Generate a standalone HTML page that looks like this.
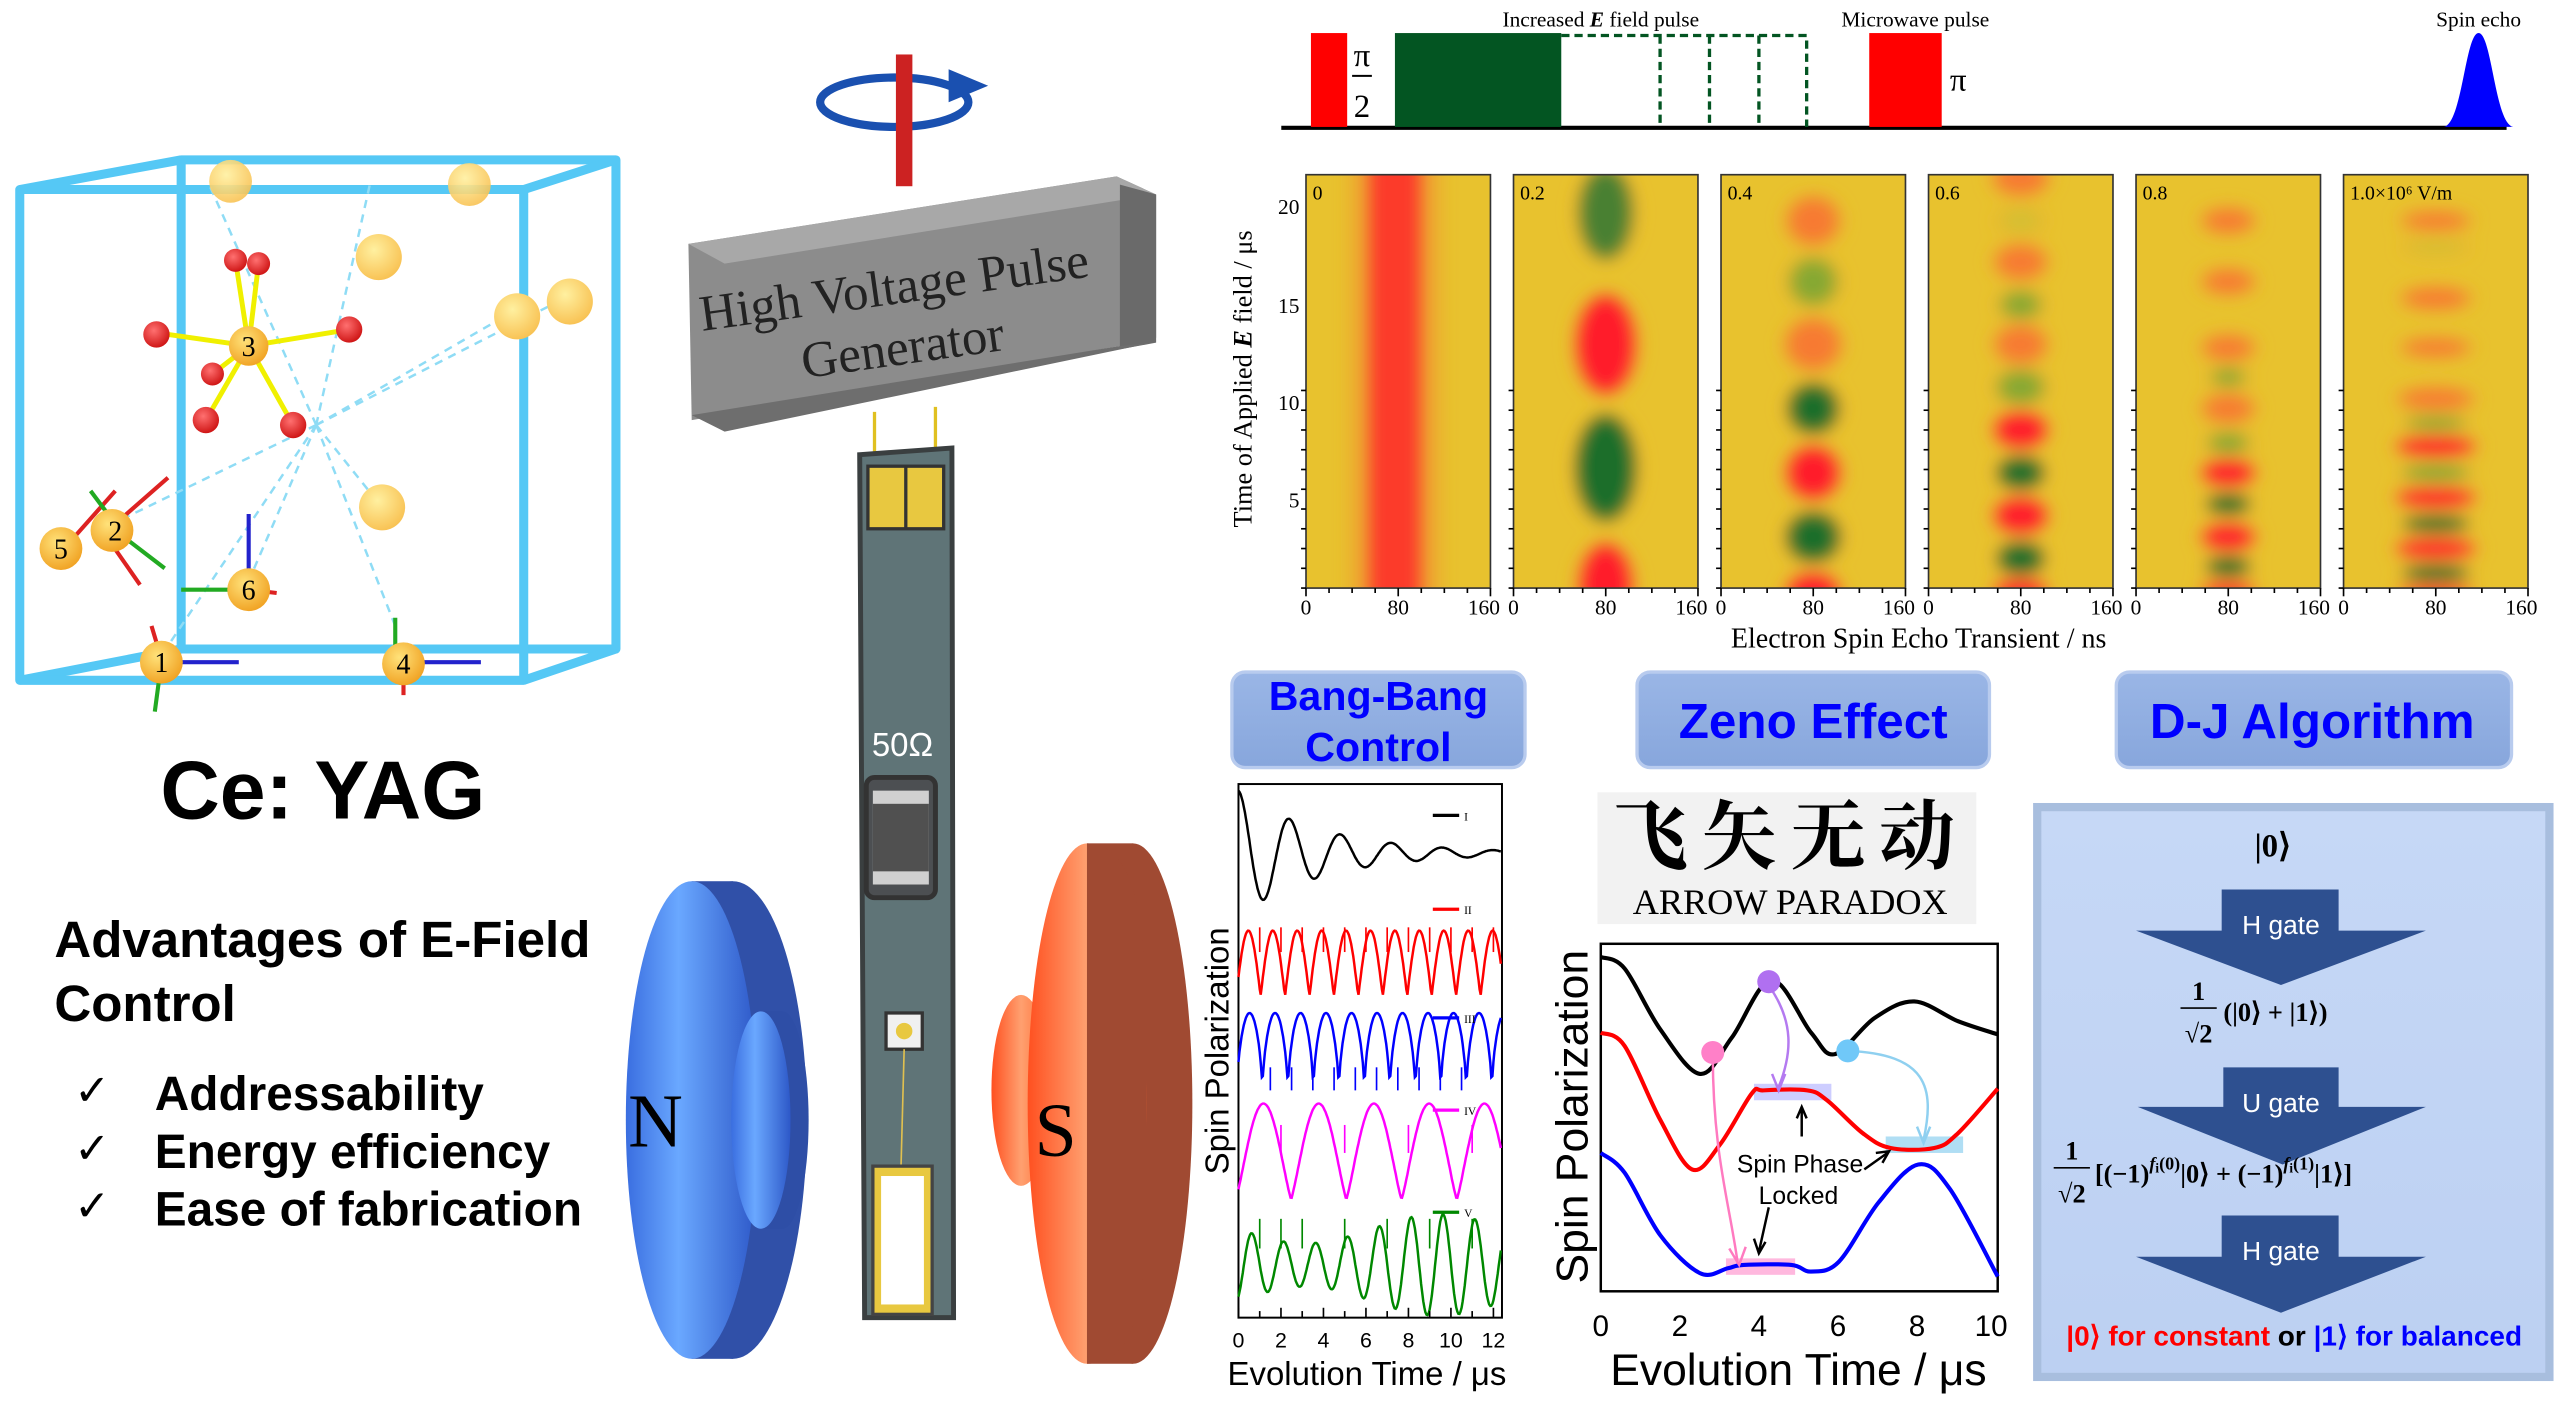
<!DOCTYPE html>
<html><head><meta charset="utf-8"><style>
html,body{margin:0;padding:0;background:#fff;width:2556px;height:1410px;overflow:hidden}
svg{display:block}
.s{font-family:"Liberation Sans",sans-serif}
.r{font-family:"Liberation Serif",serif}
</style></head><body>
<svg id="sv" width="2556" height="1410" viewBox="0 0 1552 856" xmlns="http://www.w3.org/2000/svg">
<defs>
<filter id="bl" x="-50%" y="-50%" width="200%" height="200%"><feGaussianBlur stdDeviation="5"/></filter>
<radialGradient id="ball" cx="0.4" cy="0.35" r="0.7"><stop offset="0" stop-color="#ffe27a"/><stop offset="1" stop-color="#f0a020"/></radialGradient>
<radialGradient id="ballY" cx="0.4" cy="0.35" r="0.7"><stop offset="0" stop-color="#fff0a0"/><stop offset="1" stop-color="#f8c050"/></radialGradient>
<radialGradient id="red" cx="0.4" cy="0.35" r="0.7"><stop offset="0" stop-color="#ff7070"/><stop offset="1" stop-color="#cc1010"/></radialGradient>
<linearGradient id="blueF" x1="0" x2="1"><stop offset="0" stop-color="#3a6ee0"/><stop offset="0.4" stop-color="#6aa8ff"/><stop offset="1" stop-color="#2d58c8"/></linearGradient>
<linearGradient id="orF" x1="0" x2="1"><stop offset="0" stop-color="#ff5020"/><stop offset="0.5" stop-color="#ffa070"/><stop offset="1" stop-color="#ff6a30"/></linearGradient>
<linearGradient id="btn" x1="0" y1="0" x2="0" y2="1"><stop offset="0" stop-color="#9ab6e6"/><stop offset="1" stop-color="#87a6dc"/></linearGradient>
<linearGradient id="dj" x1="0" y1="0" x2="0" y2="1"><stop offset="0" stop-color="#c6d8f6"/><stop offset="1" stop-color="#bcd0f2"/></linearGradient>
<clipPath id="c1"><rect x="793" y="106" width="112" height="251"/></clipPath>
<clipPath id="c2"><rect x="919" y="106" width="112" height="251"/></clipPath>
<clipPath id="c3"><rect x="1045" y="106" width="112" height="251"/></clipPath>
<clipPath id="c4"><rect x="1171" y="106" width="112" height="251"/></clipPath>
<clipPath id="c5"><rect x="1297" y="106" width="112" height="251"/></clipPath>
<clipPath id="c6"><rect x="1423" y="106" width="112" height="251"/></clipPath>
</defs>

<!-- ===== Pulse sequence ===== -->
<line x1="778" y1="77.5" x2="1522" y2="77.5" stroke="#000" stroke-width="2.5"/>
<rect x="796" y="20" width="22" height="57" fill="#ff0000"/>
<text x="827" y="40" class="r" font-size="20" text-anchor="middle">π</text>
<line x1="821" y1="46" x2="833" y2="46" stroke="#000" stroke-width="1.2"/>
<text x="827" y="71" class="r" font-size="20" text-anchor="middle">2</text>
<rect x="847" y="20" width="101" height="57" fill="#035522"/>
<path d="M948 21.5H1097V77M1008 21.5V77M1038 21.5V77M1068 21.5V77" fill="none" stroke="#035522" stroke-width="2" stroke-dasharray="5,3"/>
<text x="972" y="16" class="r" font-size="13" text-anchor="middle">Increased <tspan font-style="italic" font-weight="bold">E</tspan> field pulse</text>
<rect x="1135" y="20" width="44" height="57" fill="#ff0000"/>
<text x="1189" y="55" class="r" font-size="20" text-anchor="middle">π</text>
<text x="1163" y="16" class="r" font-size="13" text-anchor="middle">Microwave pulse</text>
<path d="M1484 77C1495 75 1497 20 1505 20C1513 20 1515 75 1526 77Z" fill="#0000ff"/>
<text x="1505" y="16" class="r" font-size="13" text-anchor="middle">Spin echo</text>

<!-- ===== Heatmaps ===== -->
<g id="hm"></g>
<text transform="translate(760,230) rotate(-90)" class="r" font-size="16" text-anchor="middle">Time of Applied <tspan font-style="italic" font-weight="bold">E</tspan> field / μs</text>
<g class="r" font-size="13" text-anchor="end">
<text x="789" y="130">20</text><text x="789" y="190">15</text><text x="789" y="249">10</text><text x="789" y="308">5</text>
</g>
<text x="1165" y="393" class="r" font-size="17" text-anchor="middle">Electron Spin Echo Transient / ns</text>

<!-- ===== Crystal cube ===== -->
<g stroke="#55c8f5" stroke-width="5.5" fill="none" stroke-linejoin="round">
<rect x="110" y="97" width="264" height="297"/>
<path d="M12 115L110 97M318 115L374 97M12 413L110 394M318 413L374 394"/>
<rect x="12" y="115" width="306" height="298"/>
</g>
<g stroke="#8fdcf5" stroke-width="1.5" stroke-dasharray="5,4" fill="none">
<path d="M192 258L127 112M192 258L225 110M192 258L310 190M192 258L232 308M192 258L100 395M192 258L60 322M192 258L150 355M192 258L240 380M192 258L335 185"/>
</g>
<circle cx="140" cy="110" r="13" fill="url(#ballY)" opacity="0.9"/>
<circle cx="285" cy="112" r="13" fill="url(#ballY)" opacity="0.9"/>
<circle cx="230" cy="156" r="14" fill="url(#ballY)"/>
<circle cx="314" cy="192" r="14" fill="url(#ballY)"/>
<circle cx="346" cy="183" r="14" fill="url(#ballY)"/>
<circle cx="232" cy="308" r="14" fill="url(#ballY)"/>
<g stroke="#f0f000" stroke-width="3"><path d="M151 210L143 158M151 210L157 160M151 210L102 203M151 210L212 200M151 210L125 255M151 210L178 258M151 210L129 227"/></g>
<circle cx="143" cy="158" r="7" fill="url(#red)"/><circle cx="157" cy="160" r="7" fill="url(#red)"/>
<circle cx="95" cy="203" r="8" fill="url(#red)"/><circle cx="212" cy="200" r="8" fill="url(#red)"/>
<circle cx="125" cy="255" r="8" fill="url(#red)"/><circle cx="178" cy="258" r="8" fill="url(#red)"/><circle cx="129" cy="227" r="7" fill="url(#red)"/>
<circle cx="151" cy="210" r="12" fill="url(#ball)"/>
<g stroke-width="2.5">
<path d="M70 318L102 290M38 334L70 298M62 322L85 355" stroke="#d22"/>
<path d="M70 318L55 298M70 322L100 345M150 358L110 358" stroke="#2a2"/>
<path d="M151 358V312M98 402H145M245 402H292" stroke="#22c"/>
<path d="M151 358L168 360M98 400L92 380M245 402L245 422" stroke="#d22"/>
<path d="M98 402L94 432M240 402L240 375" stroke="#2a2"/>
</g>
<g class="r" font-size="17" text-anchor="middle">
<circle cx="37" cy="333" r="13" fill="url(#ball)"/><text x="37" y="339">5</text>
<circle cx="68" cy="322" r="13" fill="url(#ball)"/><text x="70" y="328">2</text>
<circle cx="151" cy="358" r="13" fill="url(#ball)"/><text x="151" y="364">6</text>
<circle cx="98" cy="402" r="13" fill="url(#ball)"/><text x="98" y="408">1</text>
<circle cx="245" cy="403" r="13" fill="url(#ball)"/><text x="245" y="409">4</text>
<text x="151" y="216">3</text>
</g>
<text x="196" y="497" class="s" font-size="50" font-weight="bold" text-anchor="middle">Ce: YAG</text>
<g class="s" font-weight="bold">
<text x="33" y="581" font-size="31">Advantages of E-Field</text>
<text x="33" y="620" font-size="31">Control</text>
<text x="94" y="674" font-size="29">Addressability</text>
<text x="94" y="709" font-size="29">Energy efficiency</text>
<text x="94" y="744" font-size="29">Ease of fabrication</text>
</g>
<g class="r" font-size="26"><text x="45" y="671">✓</text><text x="45" y="706">✓</text><text x="45" y="741">✓</text></g>

<!-- ===== Generator ===== -->
<ellipse cx="543" cy="62" rx="45" ry="15" fill="none" stroke="#1a50b0" stroke-width="5"/>
<rect x="544" y="33" width="10" height="80" fill="#cc2222"/>
<path d="M576 42L600 52L576 62Z" fill="#1a50b0"/>
<path d="M418 148L678 107L702 118L702 205L680 210L420 255Z" fill="#8c8c8c"/>
<path d="M418 148L678 107L702 118L440 160Z" fill="#a8a8a8"/>
<path d="M680 112L702 118L702 208L680 212Z" fill="#6a6a6a"/>
<path d="M420 252L680 210L700 208L440 262Z" fill="#6e6e6e"/>
<g transform="rotate(-8 540 190)" class="r" font-size="31" text-anchor="middle" fill="#222">
<text x="545" y="185">High Voltage Pulse</text><text x="545" y="222">Generator</text></g>
<path d="M531 250V286M568 247V286" stroke="#e0c020" stroke-width="2"/>
<!-- board -->
<path d="M522 276L578 272L579 800L525 800Z" fill="#5f7477" stroke="#3a3f40" stroke-width="3"/>
<rect x="527" y="283" width="46" height="38" fill="#e8c840" stroke="#333" stroke-width="2"/>
<line x1="550" y1="283" x2="550" y2="321" stroke="#333" stroke-width="2"/>
<text x="548" y="459" class="s" font-size="20" fill="#fff" text-anchor="middle">50Ω</text>
<rect x="526" y="472" width="42" height="73" rx="5" fill="#4c4f52" stroke="#333" stroke-width="3"/>
<rect x="530" y="480" width="34" height="57" fill="#d0d0d0"/><rect x="530" y="488" width="34" height="41" fill="#505050"/>
<rect x="538" y="615" width="22" height="22" fill="#f0f0f0" stroke="#333" stroke-width="2"/><circle cx="549" cy="626" r="5" fill="#e8c840"/>
<line x1="549" y1="637" x2="547" y2="712" stroke="#e0c050" stroke-width="1"/>
<rect x="530" y="708" width="36" height="90" fill="#e8c840" stroke="#444" stroke-width="2"/><rect x="535" y="714" width="26" height="78" fill="#fff"/>
<!-- N magnet -->
<ellipse cx="445" cy="680" rx="45" ry="145" fill="#3050a8"/>
<rect x="420" y="535" width="25" height="290" fill="#3050a8"/>
<ellipse cx="420" cy="680" rx="40" ry="145" fill="url(#blueF)"/>
<ellipse cx="475" cy="680" rx="16" ry="66" fill="#2e4ea6"/>
<rect x="462" y="614" width="13" height="132" fill="#2e4ea6"/>
<ellipse cx="462" cy="680" rx="18" ry="66" fill="url(#blueF)"/>
<text x="398" y="696" class="r" font-size="46" text-anchor="middle">N</text>
<!-- S magnet -->
<ellipse cx="620" cy="662" rx="18" ry="58" fill="url(#orF)"/>
<ellipse cx="688" cy="670" rx="36" ry="158" fill="#a04a32"/>
<rect x="660" y="512" width="28" height="316" fill="#a04a32"/>
<ellipse cx="660" cy="670" rx="36" ry="158" fill="url(#orF)"/>
<path d="M660 512C700 512 696 600 696 670C696 760 700 828 660 828" fill="#a04a32"/>
<text x="641" y="702" class="r" font-size="46" text-anchor="middle">S</text>

<!-- ===== Buttons ===== -->
<g class="s" font-weight="bold" fill="#0000ff" text-anchor="middle">
<rect x="748" y="408" width="178" height="58" rx="8" fill="url(#btn)" stroke="#b8cbee" stroke-width="2"/>
<text x="837" y="431" font-size="25">Bang-Bang</text><text x="837" y="462" font-size="25">Control</text>
<rect x="994" y="408" width="214" height="58" rx="8" fill="url(#btn)" stroke="#b8cbee" stroke-width="2"/>
<text x="1101" y="448" font-size="30">Zeno Effect</text>
<rect x="1285" y="408" width="240" height="58" rx="8" fill="url(#btn)" stroke="#b8cbee" stroke-width="2"/>
<text x="1404" y="448" font-size="30">D-J Algorithm</text>
</g>

<!-- ===== Bang-bang plot ===== -->
<rect x="752" y="476" width="160" height="324" fill="none" stroke="#000" stroke-width="1.2"/>
<g id="bb"></g>
<g stroke-width="2"><line x1="870" y1="495" x2="886" y2="495" stroke="#000"/><line x1="870" y1="552" x2="886" y2="552" stroke="#f00"/><line x1="870" y1="618" x2="886" y2="618" stroke="#00f"/><line x1="870" y1="674" x2="886" y2="674" stroke="#f0f"/><line x1="870" y1="736" x2="886" y2="736" stroke="#080"/></g>
<g class="r" font-size="7"><text x="889" y="498">I</text><text x="889" y="555">II</text><text x="889" y="621">III</text><text x="889" y="677">IV</text><text x="889" y="739">V</text></g>
<text transform="translate(746,638) rotate(-90)" class="s" font-size="20" text-anchor="middle">Spin Polarization</text>
<g class="s" font-size="13" text-anchor="middle" id="bbx"></g>
<text x="830" y="841" class="s" font-size="20" text-anchor="middle">Evolution Time / μs</text>

<!-- ===== Arrow paradox ===== -->
<rect x="970" y="481" width="230" height="80" fill="#f2f2f2"/>
<text x="1087" y="524" font-family="'Noto Serif CJK SC','Noto Sans CJK SC',serif" font-size="46" font-weight="bold" text-anchor="middle" letter-spacing="8">飞矢无动</text>
<text x="1087" y="555" class="r" font-size="22" text-anchor="middle">ARROW PARADOX</text>

<!-- ===== Zeno plot ===== -->
<rect x="972" y="573" width="241" height="211" fill="none" stroke="#000" stroke-width="1.5"/>
<rect x="1065" y="658" width="47" height="10" fill="#b8b8ff" opacity="0.7"/>
<rect x="1145" y="690" width="47" height="10" fill="#8fd0f0" opacity="0.7"/>
<rect x="1048" y="764" width="42" height="10" fill="#ff9ad0" opacity="0.7"/>
<g id="zn" fill="none" stroke-width="2.5"></g>
<g fill="none" stroke-width="1.5">
<path d="M1073 597C1090 620 1088 640 1080 660" stroke="#b47af0"/><path d="M1076 652L1080 662L1084 652" stroke="#b47af0"/>
<path d="M1122 638C1170 640 1175 660 1168 692" stroke="#8fd0f0"/><path d="M1164 684L1168 694L1172 684" stroke="#8fd0f0"/>
<path d="M1040 640C1040 700 1050 730 1055 766" stroke="#ff7ac0"/><path d="M1050 758L1056 768L1060 757" stroke="#ff7ac0"/>
<path d="M1094 690V673M1091 679L1094 672L1097 679M1074 733L1068 760M1065 752L1068 761L1072 754M1132 710L1146 700M1139 700L1147 699L1143 706" stroke="#000"/>
</g>
<circle cx="1040" cy="639" r="7" fill="#ff80c8"/><circle cx="1074" cy="596" r="7" fill="#b070f0"/><circle cx="1122" cy="638" r="7" fill="#70c8f8"/>
<text x="1093" y="712" class="s" font-size="15" text-anchor="middle">Spin Phase</text>
<text x="1092" y="731" class="s" font-size="15" text-anchor="middle">Locked</text>
<text transform="translate(964,678) rotate(-90)" class="s" font-size="27" text-anchor="middle">Spin Polarization</text>
<g class="s" font-size="18" text-anchor="middle"><text x="972" y="811">0</text><text x="1020" y="811">2</text><text x="1068" y="811">4</text><text x="1116" y="811">6</text><text x="1164" y="811">8</text><text x="1209" y="811">10</text></g>
<text x="1092" y="841" class="s" font-size="27" text-anchor="middle">Evolution Time / μs</text>

<!-- ===== D-J box ===== -->
<rect x="1237" y="490" width="311" height="346" fill="url(#dj)" stroke="#a8bede" stroke-width="5"/>
<text x="1380" y="520" class="r" font-size="20" font-weight="bold" text-anchor="middle">|0⟩</text>
<g fill="#2e5090">
<path d="M1349 540H1420V565H1473L1385 598L1297 565H1349Z"/>
<path d="M1350 648H1420V672H1473L1386 707L1298 672H1350Z"/>
<path d="M1349 738H1420V763H1473L1385 797L1297 763H1349Z"/>
</g>
<g class="s" font-size="16" fill="#fff" text-anchor="middle"><text x="1385" y="567">H gate</text><text x="1385" y="675">U gate</text><text x="1385" y="765">H gate</text></g>
<g class="r" font-weight="bold" font-size="16">
<text x="1335" y="607" text-anchor="middle">1</text><line x1="1324" y1="612" x2="1346" y2="612" stroke="#000"/><text x="1335" y="633" text-anchor="middle">√2</text>
<text x="1350" y="620">(|0⟩ + |1⟩)</text>
<text x="1258" y="704" text-anchor="middle">1</text><line x1="1247" y1="709" x2="1269" y2="709" stroke="#000"/><text x="1258" y="730" text-anchor="middle">√2</text>
<text x="1272" y="718">[(−1)<tspan font-style="italic" font-size="11" dy="-8">f</tspan><tspan font-size="8" dy="2">i</tspan><tspan font-size="11" dy="-2">(0)</tspan><tspan dy="8">|0⟩ + (−1)</tspan><tspan font-style="italic" font-size="11" dy="-8">f</tspan><tspan font-size="8" dy="2">i</tspan><tspan font-size="11" dy="-2">(1)</tspan><tspan dy="8">|1⟩]</tspan></text>
</g>
<text x="1393" y="817" class="s" font-size="17" font-weight="bold" text-anchor="middle"><tspan fill="#f00">|0⟩ for constant</tspan> or <tspan fill="#00f">|1⟩ for balanced</tspan></text>
</svg>
<script>
var NS="http://www.w3.org/2000/svg",sv=document.getElementById("sv");
function el(p,t,a){var e=document.createElementNS(NS,t);for(var k in a)e.setAttribute(k,a[k]);p.appendChild(e);return e;}
var hm=document.getElementById("hm");
var xs=[793,919,1045,1171,1297,1423];
var Y="#e8c22e",R="#ff1a2a",O="#f77a30",G="#1f6e2a",LG="#86a830",F="#d4c030";
var data=[
 [],
 [[129,16,28,"#4a8030"],[209,18,30,R],[284,18,32,G],[356,16,26,R]],
 [[134,15,14,O],[171,14,14,LG],[209,16,15,O],[248,15,15,G],[287,16,16,R],[326,16,15,G],[360,16,12,R]],
 [[108,16,10,O],[134,12,7,F],[159,15,10,O],[185,12,8,LG],[209,15,11,O],[235,14,10,LG],[261,16,11,R],[287,14,10,G],[313,16,11,R],[339,14,10,G],[359,16,7,R]],
 [[134,15,7,O],[171,15,7,O],[211,15,7,O],[229,10,5,LG],[248,15,8,O],[269,12,6,LG],[287,16,8,R],[306,13,6,G],[326,16,8,R],[344,13,6,G],[359,16,5,R]],
 [[134,20,5,O],[150,18,4,F],[181,20,6,O],[211,20,5,O],[242,22,6,O],[257,18,4,LG],[271,24,6,R],[287,20,5,LG],[302,24,6,R],[318,20,5,G],[333,24,6,R],[348,20,5,G],[360,22,4,R]]
];
for(var i=0;i<6;i++){
 var g=el(hm,"g",{"clip-path":"url(#c"+(i+1)+")"});
 el(g,"rect",{x:xs[i],y:106,width:112,height:251,fill:Y});
 var gb=el(g,"g",{filter:"url(#bl)"});
 var cx=xs[i]+56;
 if(i==0){el(gb,"rect",{x:cx-18,y:90,width:32,height:290,fill:R});el(gb,"rect",{x:cx-30,y:90,width:56,height:290,fill:O,opacity:0.35});}
 data[i].forEach(function(d){el(gb,"ellipse",{cx:cx,cy:d[0],rx:d[1]+4,ry:d[2]+3,fill:"#f0a030",opacity:0.4});el(gb,"ellipse",{cx:cx,cy:d[0],rx:d[1],ry:d[2],fill:d[3]});});
 el(hm,"rect",{x:xs[i],y:106,width:112,height:251,fill:"none",stroke:"#333","stroke-width":1});
 for(var k=0;k<=8;k++)el(hm,"line",{x1:xs[i]+k*14,y1:357,x2:xs[i]+k*14,y2:k%4?360:362,stroke:"#000"});
 for(var k=0;k<11;k++)el(hm,"line",{x1:xs[i],y1:357-k*12,x2:xs[i]-3,y2:357-k*12,stroke:"#000"});
 [[0,"0"],[56,"80"],[108,"160"]].forEach(function(t){var tx=el(hm,"text",{x:xs[i]+t[0],y:373,"font-size":13,"text-anchor":"middle","class":"r"});tx.textContent=t[1];});
 var lb=["0","0.2","0.4","0.6","0.8","1.0×10⁶ V/m"][i];
 var tt=el(hm,"text",{x:xs[i]+4,y:121,"font-size":12,"class":"r"});tt.textContent=lb;
}
var bb=document.getElementById("bb");
function curve(f,col){var d="";for(var t=0;t<=12.4;t+=0.05){var x=752+t*12.9,y=f(t);d+=(d?"L":"M")+x.toFixed(1)+" "+y.toFixed(1);}el(bb,"path",{d:d,fill:"none",stroke:col,"stroke-width":1.5});}
curve(function(t){return 518-38*Math.exp(-t/4)*Math.cos(2*Math.PI*t/2.4);},"#000");
curve(function(t){return 605-40*Math.abs(Math.sin(Math.PI*t/1.15+0.3));},"#f00");
curve(function(t){return 663-48*Math.pow(Math.abs(Math.sin(Math.PI*t/1.2+0.2)),0.6);},"#00f");
curve(function(t){return 728-58*Math.pow(Math.abs(Math.sin(Math.PI*t/2.6+0.15)),1.2);},"#f0f");
curve(function(t){return 768+22*Math.cos(2*Math.PI*t/1.5+0.5)*(1-0.4*Math.sin(t/2));},"#080");
function ticks(y1,y2,col,xsList){xsList.forEach(function(t){el(bb,"line",{x1:752+t*12.9,y1:y1,x2:752+t*12.9,y2:y2,stroke:col,"stroke-width":1});});}
ticks(563,578,"#f00",[1,2,3,4,5,6,7,8,9,10,11,12]);
ticks(648,662,"#00f",[1.5,2.5,3.5,4.5,5.5,6.5,7.5,8.5,9.5,10.5]);
ticks(683,700,"#f0f",[2,5,8,11]);ticks(740,758,"#080",[1,2,3,5,7,9,11]);
var bx=document.getElementById("bbx");
for(var k=0;k<=12;k+=2){var tx=el(bx,"text",{x:752+k*12.9,y:818});tx.textContent=k;}
for(var k=0;k<=12;k++)el(bb,"line",{x1:752+k*12.9,y1:800,x2:752+k*12.9,y2:k%2?796:794,stroke:"#000"});
var zn=document.getElementById("zn");
function smooth(pts){var d="M"+pts[0][0]+" "+pts[0][1];for(var i=0;i<pts.length-1;i++){var p0=pts[i-1]||pts[i],p1=pts[i],p2=pts[i+1],p3=pts[i+2]||p2;d+="C"+(p1[0]+(p2[0]-p0[0])/6)+" "+(p1[1]+(p2[1]-p0[1])/6)+" "+(p2[0]-(p3[0]-p1[0])/6)+" "+(p2[1]-(p3[1]-p1[1])/6)+" "+p2[0]+" "+p2[1];}return d;}
function X(t){return 972+t*24.1;}
el(zn,"path",{d:smooth([[X(0),581],[X(0.6),588],[X(1.5),625],[X(2.5),652],[X(3.3),630],[X(4.3),595],[X(5.3),627],[X(5.9),640],[X(6.9),618],[X(7.9),608],[X(9),620],[X(10),628]]),stroke:"#000"});
el(zn,"path",{d:smooth([[X(0),627],[X(0.6),635],[X(1.5),680],[X(2.3),710],[X(3),695],[X(3.8),664],[X(4.1),662],[X(5.2),662],[X(5.7),668],[X(6.6),688],[X(7.3),697],[X(8.4),697],[X(9),688],[X(10),661]]),stroke:"#f00"});
el(zn,"path",{d:smooth([[X(0),700],[X(0.6),712],[X(1.5),750],[X(2.5),773],[X(3.2),770],[X(3.6),768],[X(4.8),768],[X(5.3),772],[X(6),766],[X(7),730],[X(8),707],[X(8.8),722],[X(10),775]]),stroke:"#00f"});
</script>
</body></html>
